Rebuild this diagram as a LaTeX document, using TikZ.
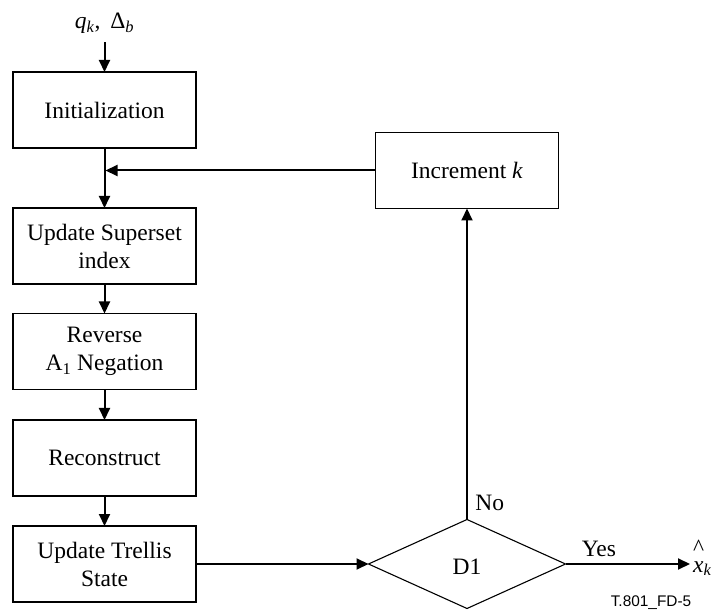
\documentclass[tikz,border=0pt]{standalone}
\usepackage{fontspec}
\setmainfont{Liberation Serif}
\setsansfont{Liberation Sans}
\usetikzlibrary{shapes.geometric,arrows.meta}

\tikzset{
	block/.style={rectangle, draw, line width=1.3pt, minimum width=183pt, minimum height=76pt, align=center, inner sep=0pt, outer sep=0pt},
	decision/.style={diamond, draw, line width=1.1pt, minimum width=197pt, minimum height=89pt, inner sep=0pt, outer sep=0pt},
	flow/.style={-{Triangle[length=12pt,width=11pt]}, line width=2pt},
}

\begin{document}
\begin{tikzpicture}[x=1pt, y=-1pt, font=\fontsize{23.5}{28}\selectfont]
	\useasboundingbox (0,0) rectangle (721,612);

	\node 	(in)		at	(104.5,29) 	[anchor=base, inner ysep=8pt]{\textit{q}\textsubscript{\textit{k}},\, Δ\textsubscript{\textit{b}}};

	\node 	(init)		at	(104.5,110) 	[block]{Initialization};
	\coordinate	(jn)	at	(104.5,170.5);
	\node 	(superset)	at	(104.5,246) 	[block]{Update Superset\\index};
	\node 	(reverse)	at	(104.5,351.5) 	[block]{Reverse\\A\textsubscript{1} Negation};
	\node 	(recon)		at	(104.5,458) 	[block]{Reconstruct};
	\node 	(trellis)	at	(104.5,564) 	[block]{Update Trellis\\State};

	\node 	(dec)		at	(467,564) 	[decision]{};
	\node 	(dlabel)	at	(467,567) 	{D1};
	\node 	(incr)		at	(467,170.5) 	[block]{Increment \textit{k}};

	\node 	(out)		at	(693,572) 	[anchor=base west, inner sep=0pt]{\makebox[0pt][l]{\raisebox{0.72em}{\textasciicircum}}\textit{x}\textsubscript{\textit{k}}};
	\node 	(tag)		at	(651,606) 	[anchor=base, inner sep=0pt, font=\sffamily\fontsize{15.4}{18}\selectfont]{T.801\_FD-5};

	\draw[flow] (in) to 	(init);
	\draw[flow] (init) to 	(superset);
	\draw[flow, shorten >=1pt] (incr) to 	(jn);
	\draw[flow] (superset) to 	(reverse);
	\draw[flow] (reverse) to 	(recon);
	\draw[flow] (recon) to 	(trellis);
	\draw[flow] (trellis) to 	(dec);
	\draw[flow] (dec) to 	node[at start, anchor=south west, xshift=4pt, yshift=4pt]{No} 		(incr);
	\draw[flow, shorten >=3pt] (dec.east) to 	node[at start, anchor=south west, xshift=12pt, yshift=3pt]{Yes} 		(dec.east -| out.west);

\end{tikzpicture}
\end{document}
